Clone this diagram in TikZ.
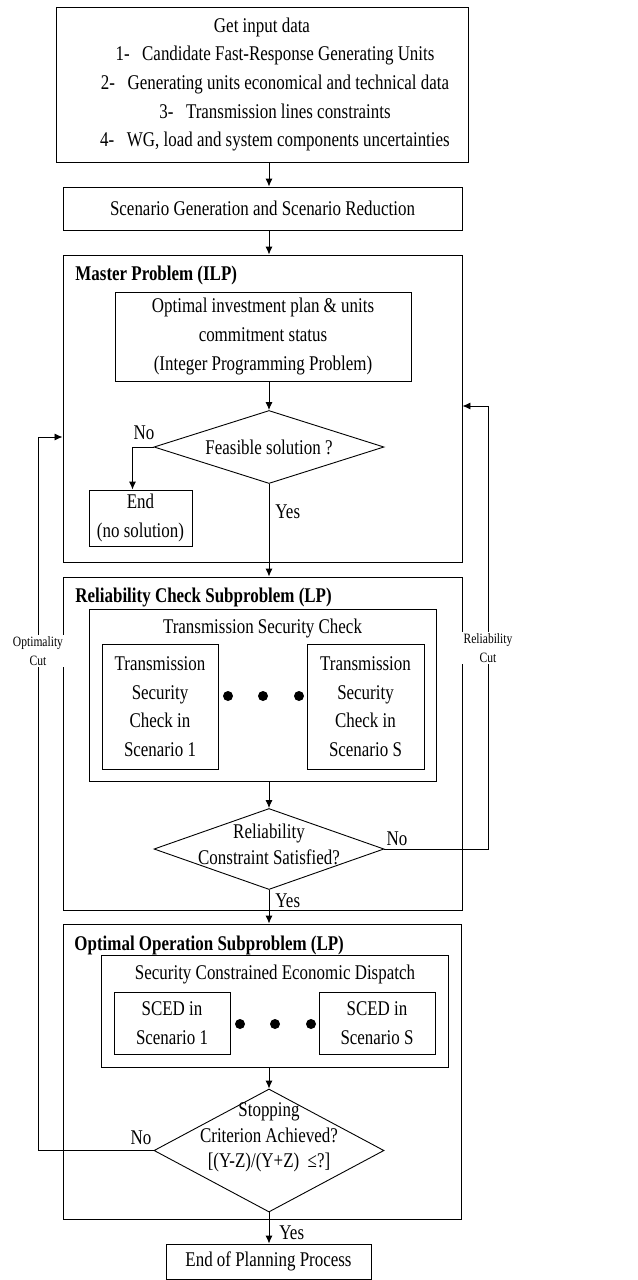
\documentclass[tikz,border=0pt]{standalone}
\usepackage{fontspec}
\setmainfont{Liberation Serif}[FakeStretch=0.81]
\usetikzlibrary{shapes.geometric,arrows.meta}

\begin{document}
\begin{tikzpicture}[x=1bp,y=-1bp,line width=0.9bp,
  box/.style={draw,rectangle,inner sep=0pt,align=center,font=\fontsize{21}{28.7}\selectfont},
  frame/.style={draw,rectangle,inner sep=0pt},
  title/.style={inner sep=0pt,font=\fontsize{21}{25}\selectfont\bfseries},
  txt/.style={inner sep=0pt,align=center,font=\fontsize{21}{25.5}\selectfont},
  decision/.style={draw,diamond,inner sep=0pt,minimum width=230bp},
  cutlabel/.style={fill=white,inner sep=2bp,align=center,font=\fontsize{14.3}{19}\selectfont},
  arr/.style={-{Latex[length=8bp,width=7bp]}}]
\useasboundingbox (0,0) rectangle (638,1280);

\node[box,minimum width=412bp,minimum height=155bp] (input) at (262,84.5) {Get input data\\
  \hspace*{26bp}1-\hspace{0.6em}Candidate Fast-Response Generating Units\\
  \hspace*{26bp}2-\hspace{0.6em}Generating units economical and technical data\\
  \hspace*{26bp}3-\hspace{0.6em}Transmission lines constraints\\
  \hspace*{26bp}4-\hspace{0.6em}WG, load and system components uncertainties};
\node[box,minimum width=399bp,minimum height=43bp] (scen) at (262.5,208.5) {Scenario Generation and Scenario Reduction};

\node[frame,minimum width=399bp,minimum height=307bp] (master) at (262.5,408.5) {};
\node[title,anchor=west] (mastertitle) at (75,275) {Master Problem (ILP)};
\node[box,minimum width=296bp,minimum height=89bp] (plan) at (263,336.5) {Optimal investment plan \& units\\ commitment status\\ (Integer Programming Problem)};
\node[decision,minimum height=73bp] (feas) at (269,447) {};
\node[txt] (feastext) at (feas) {Feasible solution ?};
\node[box,minimum width=103bp,minimum height=56bp] (endbox) at (140.5,518) {End\\ (no solution)};
\node[txt] (feasno) at (144,433) {No};
\node[txt,anchor=west] (feasyes) at (275,512) {Yes};

\node[frame,minimum width=399bp,minimum height=333bp] (relbox) at (262.5,743.5) {};
\node[title,anchor=west] (reltitle) at (75,597) {Reliability Check Subproblem (LP)};
\node[frame,minimum width=347bp,minimum height=172bp] (tsc) at (262.5,695) {};
\node[txt] (tsctitle) at (262.5,628) {Transmission Security Check};
\node[box,minimum width=116bp,minimum height=125bp] (tscone) at (160,706.5) {Transmission\\ Security\\ Check in\\ Scenario 1};
\node[box,minimum width=117bp,minimum height=125bp] (tscs) at (365.5,706.5) {Transmission\\ Security\\ Check in\\ Scenario S};
\foreach \dx in {228,263,299}
  \fill (\dx,696) circle[radius=5bp];
\node[decision,minimum height=81bp] (reldec) at (269,849) {};
\node[txt] (reldectext) at (269,844.5) {Reliability\\ Constraint Satisfied?};
\node[txt] (relno) at (397,839) {No};
\node[txt,anchor=west] (relyes) at (275,901) {Yes};

\node[frame,minimum width=398bp,minimum height=295bp] (optbox) at (262,1071.5) {};
\node[title,anchor=west] (opttitle) at (74,945) {Optimal Operation Subproblem (LP)};
\node[frame,minimum width=347bp,minimum height=112bp] (sced) at (274.5,1011) {};
\node[txt] (scedtitle) at (275,974) {Security Constrained Economic Dispatch};
\node[box,minimum width=116bp,minimum height=62bp] (scedone) at (172,1023) {SCED in\\ Scenario 1};
\node[box,minimum width=116bp,minimum height=62bp] (sceds) at (377,1023) {SCED in\\ Scenario S};
\foreach \dx in {240,275,311}
  \fill (\dx,1024) circle[radius=5bp];
\node[decision,minimum height=123bp] (stopdec) at (269,1150.5) {};
\node[txt] (stoptext) at (269,1137.5) {Stopping\\ Criterion Achieved?\\ {[}(Y-Z)/(Y+Z)~~≤?{]}};
\node[txt] (stopno) at (141,1138) {No};
\node[txt,anchor=west] (stopyes) at (279,1233) {Yes};
\node[box,minimum width=205bp,minimum height=35bp] (endplan) at (268.5,1261.5) {End of Planning Process};

\coordinate (relcut) at (488,406);
\coordinate (optcut) at (38,437);

\draw[arr] (input.south -| feas) -- (scen.north -| feas);
\draw[arr] (scen.south -| feas) -- (master.north -| feas);
\draw[arr] (plan.south -| feas) -- (feas.north);
\draw[arr] (feas.west) -| ([xshift=-8bp]endbox.north);
\draw[arr] (feas.south) -- (relbox.north -| feas);
\draw[arr] (tsc.south -| feas) -- (reldec.north);
\draw[arr] (reldec.south) -- (optbox.north -| feas);
\draw[arr] (sced.south -| feas) -- (stopdec.north);
\draw[arr] (stopdec.south) -- (endplan.north -| stopdec);
\draw[arr] (reldec.east) -| (relcut) -- (master.east |- relcut);
\draw[arr] (stopdec.west) -| (optcut) -- (master.west |- optcut);
\node[cutlabel] (relcutlabel) at (488,648) {Reliability\\ Cut};
\node[cutlabel] (optcutlabel) at (38,651) {Optimality\\ Cut};
\end{tikzpicture}
\end{document}
